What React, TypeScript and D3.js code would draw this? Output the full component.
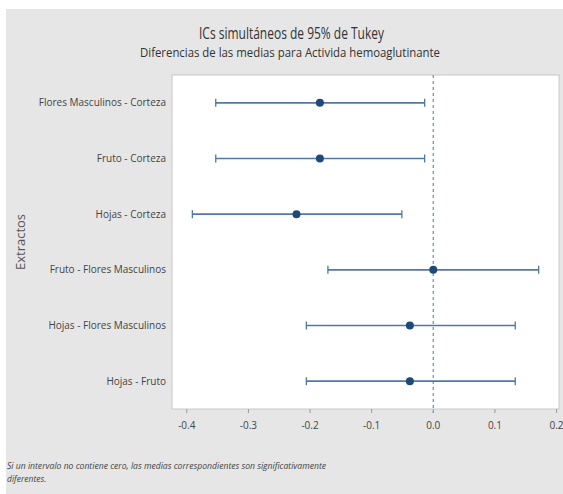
import React from "react";
import * as d3 from "d3";

const categories = [
  "Flores Masculinos - Corteza",
  "Fruto - Corteza",
  "Hojas - Corteza",
  "Fruto - Flores Masculinos",
  "Hojas - Flores Masculinos",
  "Hojas - Fruto",
];
const centers = [-0.184, -0.184, -0.222, 0.0, -0.038, -0.038];
const lowers = [-0.353, -0.353, -0.391, -0.171, -0.206, -0.206];
const uppers = [-0.014, -0.014, -0.051, 0.171, 0.133, 0.133];
const xTicks = [-0.4, -0.3, -0.2, -0.1, 0.0, 0.1, 0.2];

const W = 563;
const H = 494;
const plot = { left: 172, right: 559, top: 75, bottom: 409 };

export default function App() {
  const x = d3.scaleLinear().domain([-0.424, 0.204]).range([plot.left, plot.right]);
  const y = d3
    .scalePoint<string>()
    .domain(categories)
    .range([plot.top, plot.bottom])
    .padding(0.5);
  const font = "'Open Sans', sans-serif";
  const capH = 4;
  return (
    <svg
      width={W}
      height={H}
      style={{ position: "absolute", left: 0, top: 0 }}
      fontFamily={font}
    >
      <rect x={0} y={0} width={W} height={H} fill="#ffffff" />
      <rect x={6} y={9} width={W - 6} height={H - 9} fill="#e6e6e6" />
      <text x={199} y={39} fontSize={17} fill="#333" textLength={185} lengthAdjust="spacingAndGlyphs">
        ICs simultáneos de 95% de Tukey
      </text>
      <text x={140} y={57} fontSize={12} fill="#333" textLength={300} lengthAdjust="spacingAndGlyphs">
        Diferencias de las medias para Activida hemoaglutinante
      </text>
      <rect
        x={plot.left}
        y={plot.top}
        width={plot.right - plot.left}
        height={plot.bottom - plot.top}
        fill="#ffffff"
        stroke="#c8c8c8"
        strokeWidth={1}
      />
      <line
        x1={x(0)}
        x2={x(0)}
        y1={plot.top}
        y2={plot.bottom + 4}
        stroke="#6f9ab3"
        strokeWidth={1.3}
        strokeDasharray="3,3"
      />
      {xTicks.map((t) => (
        <g key={t}>
          <line x1={x(t)} x2={x(t)} y1={plot.bottom} y2={plot.bottom + 4} stroke="#999" />
          <text x={x(t)} y={plot.bottom + 20} textAnchor="middle" fontSize={10} fill="#444">
            {t.toFixed(1)}
          </text>
        </g>
      ))}
      {categories.map((c, i) => {
        const yy = y(c) as number;
        return (
          <g key={c}>
            <text x={166} y={yy + 3.5} textAnchor="end" fontSize={10} fill="#444">
              {c}
            </text>
            <line x1={x(lowers[i])} x2={x(uppers[i])} y1={yy} y2={yy} stroke="#4f79a6" strokeWidth={1.6} />
            <line x1={x(lowers[i])} x2={x(lowers[i])} y1={yy - capH} y2={yy + capH} stroke="#4f79a6" strokeWidth={1.3} />
            <line x1={x(uppers[i])} x2={x(uppers[i])} y1={yy - capH} y2={yy + capH} stroke="#4f79a6" strokeWidth={1.3} />
            <circle cx={x(centers[i])} cy={yy} r={4} fill="#1f4a78" />
          </g>
        );
      })}
      <text
        transform={`translate(25,${(plot.top + plot.bottom) / 2}) rotate(-90)`}
        textAnchor="middle"
        fontSize={13}
        fill="#555"
      >
        Extractos
      </text>
      <text x={7} y={469} fontSize={8.5} fontStyle="italic" fill="#444" textLength={319} lengthAdjust="spacingAndGlyphs">
        Si un intervalo no contiene cero, las medias correspondientes son significativamente
      </text>
      <text x={7} y={482} fontSize={8.5} fontStyle="italic" fill="#444">
        diferentes.
      </text>
    </svg>
  );
}
